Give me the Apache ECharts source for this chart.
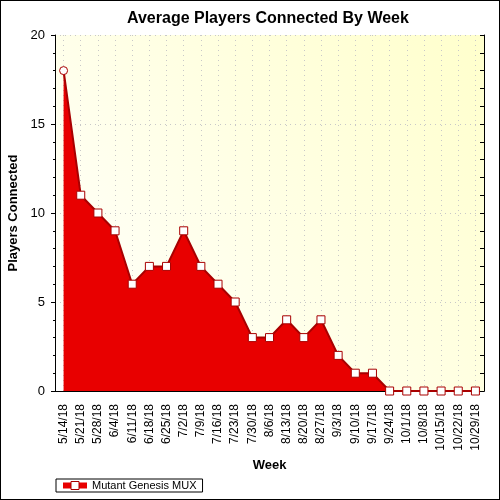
<!DOCTYPE html>
<html>
<head>
<meta charset="utf-8">
<script src="https://cdn.jsdelivr.net/npm/echarts@6/dist/echarts.min.js"></script>
<style>
  html, body { margin: 0; padding: 0; background: #fff; }
  #chart { width: 500px; height: 500px; box-sizing: border-box; border: 1px solid #000; }
</style>
</head>
<body>
<div id="chart"></div>
<script>
var weeks = ['5/14/18', '5/21/18', '5/28/18', '6/4/18', '6/11/18', '6/18/18', '6/25/18',
    '7/2/18', '7/9/18', '7/16/18', '7/23/18', '7/30/18', '8/6/18', '8/13/18', '8/20/18',
    '8/27/18', '9/3/18', '9/10/18', '9/17/18', '9/24/18', '10/1/18', '10/8/18',
    '10/15/18', '10/22/18', '10/29/18'];
var players = [18, 11, 10, 9, 6, 7, 7, 9, 7, 6, 5, 3, 3, 4, 3, 4, 2, 1, 1, 0, 0, 0, 0, 0, 0];
var seriesName = 'Mutant Genesis MUX';

var font = 'Arial, "Liberation Sans", sans-serif';
var dotted = { show: true, lineStyle: { color: '#c8c8c8', type: [1, 4], width: 1 } };

var chart = echarts.init(document.getElementById('chart'));

// first point is drawn as a circle in the original
var points = players.map(function (v, i) {
    return i == 0 ? { value: v, symbol: 'circle' } : v;
});

var option = {
    animation: false,
    title: {
        text: 'Average Players Connected By Week',
        left: 126, top: 10, padding: 0,
        textStyle: { fontFamily: font, fontSize: 16, fontWeight: 'bold', color: '#000' }
    },
    grid: {
        left: 54, right: 15, top: 34, bottom: 108,
        outerBoundsMode: 'none',
        containLabel: false,
        show: true, borderWidth: 0,
        backgroundColor: {
            type: 'linear', x: 0, y: 1, x2: 1, y2: 0,
            colorStops: [{ offset: 0, color: '#ffffff' }, { offset: 1, color: '#ffffcc' }]
        }
    },
    legend: {
        left: 55, bottom: 7,
        orient: 'horizontal',
        borderColor: '#000', borderWidth: 1, borderRadius: 0,
        padding: [1, 6, 1, 4],
        itemWidth: 24, itemHeight: 10, itemGap: 4,
        lineStyle: { width: 6, color: '#e80000' },
        itemStyle: { color: '#ffffff', borderColor: '#a80000', borderWidth: 1 },
        textStyle: { fontFamily: font, fontSize: 11, color: '#000' },
        data: [seriesName]
    },
    xAxis: [{
        type: 'category',
        data: weeks,
        boundaryGap: true,
        name: 'Week', nameLocation: 'middle', nameGap: 67,
        nameTextStyle: { fontFamily: font, fontSize: 13, fontWeight: 'bold', color: '#000' },
        axisLine: { lineStyle: { color: '#000', width: 1 } },
        axisTick: { alignWithLabel: true, length: 5, lineStyle: { color: '#000' } },
        axisLabel: { rotate: 90, interval: 0, margin: 13, fontFamily: font, fontSize: 12, color: '#000' },
        splitLine: { show: true, alignWithLabel: true, lineStyle: dotted.lineStyle }
    }, {
        type: 'category',
        data: weeks,
        position: 'top',
        boundaryGap: true,
        axisLine: { lineStyle: { color: '#000', width: 1 } },
        axisTick: { alignWithLabel: true, inside: true, length: 4, lineStyle: { color: '#000' } },
        axisLabel: { show: false },
        splitLine: { show: false }
    }],
    yAxis: [{
        type: 'value',
        min: 0, max: 20, interval: 5,
        name: 'Players Connected', nameLocation: 'middle', nameGap: 29,
        nameTextStyle: { fontFamily: font, fontSize: 13, fontWeight: 'bold', color: '#000' },
        axisLine: { show: true, lineStyle: { color: '#000', width: 1 } },
        axisTick: { show: true, length: 4, lineStyle: { color: '#000' } },
        minorTick: { show: true, splitNumber: 5, length: 2, lineStyle: { color: '#000' } },
        axisLabel: { margin: 10, fontFamily: font, fontSize: 13, color: '#000' },
        splitLine: dotted
    }, {
        type: 'value',
        min: 0, max: 20, interval: 1,
        position: 'right',
        axisLine: { show: true, lineStyle: { color: '#000', width: 1 } },
        axisTick: { show: true, inside: true, length: 4, lineStyle: { color: '#000' } },
        axisLabel: { show: false },
        splitLine: { show: false }
    }],
    series: [{
        name: seriesName,
        type: 'line',
        xAxisIndex: 0, yAxisIndex: 0,
        data: points,
        symbol: 'rect',
        symbolSize: 8,
        showAllSymbol: true,
        lineStyle: { color: '#a80000', width: 2 },
        itemStyle: { color: '#ffffff', borderColor: '#a80000', borderWidth: 1 },
        areaStyle: { color: '#e80000', opacity: 1 },
        z: 3
    }]
};

chart.setOption(option);
</script>
</body>
</html>
